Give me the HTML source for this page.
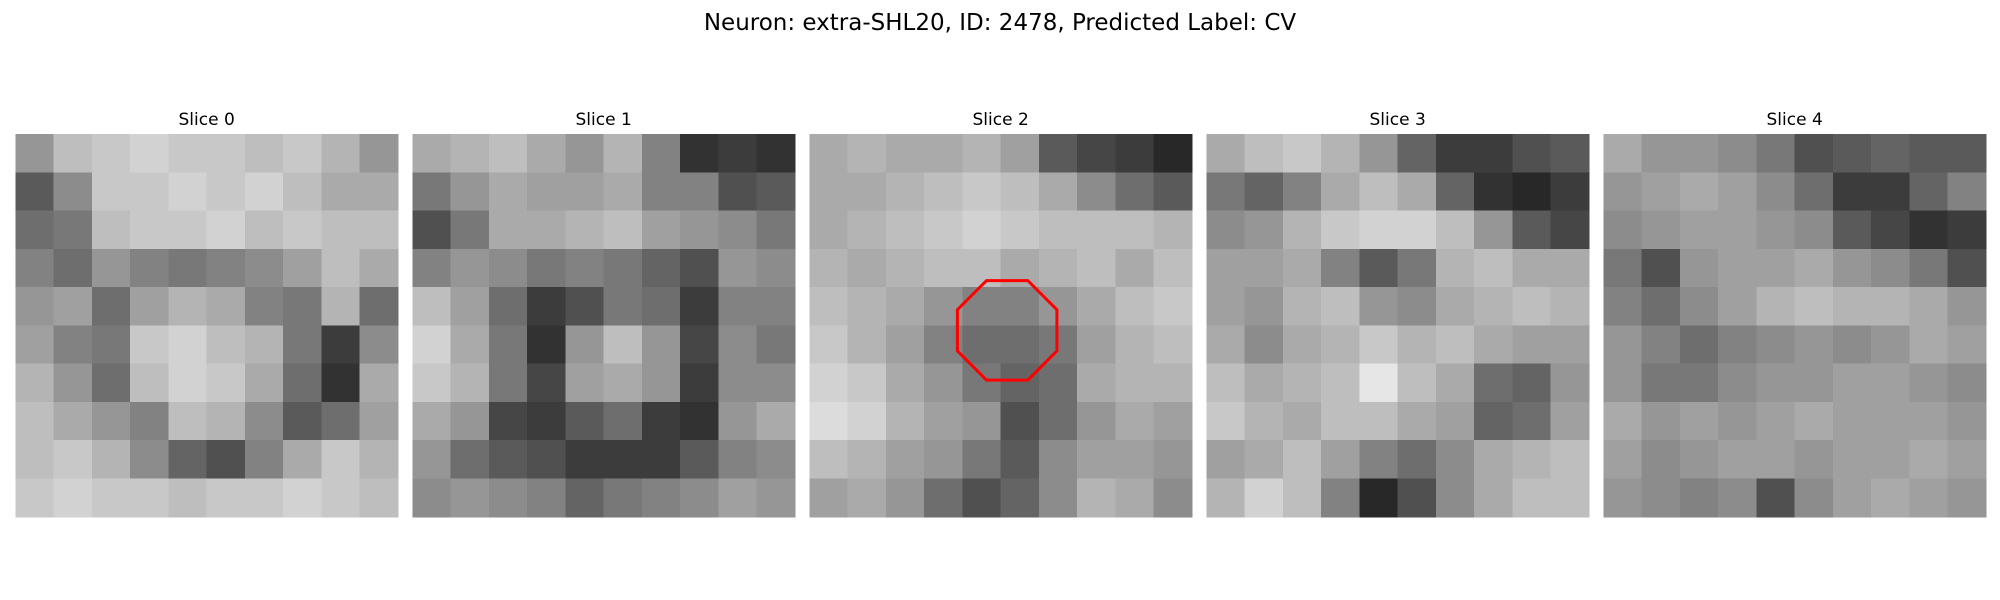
<!DOCTYPE html>
<html><head><meta charset="utf-8"><style>
html,body{margin:0;padding:0;background:#fff;}
svg{display:block;}
text{font-family:"DejaVu Sans","Liberation Sans",sans-serif;fill:#000;}
</style></head><body>
<svg id="fig" width="2000" height="600" viewBox="0 0 2000 600" shape-rendering="crispEdges">
<text x="1000" y="30" text-anchor="middle" font-size="23">Neuron: extra-SHL20, ID: 2478, Predicted Label: CV</text>
<g id="panels"></g>
</svg>
<script>
const sliceTitles = ["Slice 0","Slice 1","Slice 2","Slice 3","Slice 4"];
const slice0 = [
[150,190,200,210,200,200,190,200,180,150],
[90,140,200,200,210,200,210,190,170,170],
[110,120,190,200,200,210,190,200,190,190],
[130,110,150,130,120,130,140,160,190,170],
[150,160,110,160,180,170,130,120,180,110],
[160,130,120,200,210,190,180,120,60,140],
[180,150,110,190,210,200,170,110,50,170],
[190,170,150,130,190,180,140,90,110,160],
[190,200,180,140,100,80,130,170,200,180],
[200,210,200,200,190,200,200,210,200,190]];
const slice1 = [
[170,180,190,170,150,180,130,50,60,50],
[120,150,170,160,160,170,130,130,80,90],
[80,120,170,170,180,190,160,150,140,120],
[130,150,140,120,130,120,100,80,150,140],
[190,160,110,60,80,120,110,60,130,130],
[210,170,120,50,150,190,150,70,140,120],
[200,180,120,70,160,170,150,60,140,140],
[170,150,70,60,90,110,60,50,150,170],
[150,110,90,80,60,60,60,90,130,140],
[140,150,140,130,100,120,130,140,160,150]];
const slice2 = [
[170,180,170,170,180,160,90,70,60,40],
[170,170,180,190,200,190,170,140,110,90],
[170,180,190,200,210,200,190,190,190,180],
[180,170,180,190,190,170,180,190,170,190],
[190,180,170,150,130,130,150,170,190,200],
[200,180,160,130,110,110,120,160,180,190],
[210,200,170,150,120,100,110,170,180,180],
[220,210,180,160,150,80,110,150,170,160],
[190,180,160,150,120,90,140,160,160,150],
[160,170,150,110,80,100,140,180,170,140]];
const slice3 = [
[170,190,200,180,150,100,60,60,80,90],
[120,100,130,170,190,170,100,50,40,60],
[140,150,180,200,210,210,190,150,90,70],
[160,160,170,130,90,120,180,190,170,170],
[160,150,180,190,150,140,170,180,190,180],
[170,140,170,180,200,180,190,170,160,160],
[190,170,180,190,230,190,170,110,100,150],
[200,180,170,190,190,170,160,100,110,160],
[160,170,190,160,130,110,140,170,180,190],
[180,210,190,130,40,80,140,170,190,190]];
const slice4 = [
[170,150,150,140,120,80,90,100,90,90],
[150,160,170,160,140,110,60,60,100,130],
[140,150,160,160,150,140,90,70,50,60],
[120,80,150,160,160,170,150,140,120,80],
[130,110,140,160,180,190,180,180,170,150],
[150,130,110,130,140,150,140,150,170,160],
[150,120,120,140,150,150,160,160,150,140],
[170,150,160,150,160,170,160,160,160,150],
[160,140,150,160,160,150,160,160,170,160],
[150,140,130,140,80,140,160,170,160,150]];
const slices = [slice0,slice1,slice2,slice3,slice4];
// marker: slice index, center (fraction of panel), apothem (fraction)
const markerSlice = [2];
const markerCenter = [0.517,0.513];
const markerApothem = [0.13];

const NS="http://www.w3.org/2000/svg";
const panelsG=document.getElementById('panels');
const panelLeft0=15.3, panelStep=397.0, panelTop=134, panelSize=382.7;
function px(i,frac){return panelLeft0+i*panelStep+frac*panelSize;}
function py(frac){return panelTop+frac*panelSize;}
slices.forEach((grid,i)=>{
  const g=document.createElementNS(NS,'g');
  
  
  const n=grid.length, m=grid[0].length;
  grid.forEach((row,r)=>row.forEach((v,c)=>{
    const rect=document.createElementNS(NS,'rect');
    const x0=px(i,c/m), x1=px(i,(c+1)/m), y0=py(r/n), y1=py((r+1)/n);
    rect.setAttribute('x',x0);rect.setAttribute('y',y0);
    rect.setAttribute('width',x1-x0+0.6);rect.setAttribute('height',y1-y0+0.6);
    rect.setAttribute('fill','rgb('+v+','+v+','+v+')');
    
    
    g.appendChild(rect);
  }));
  const t=document.createElementNS(NS,'text');
  t.setAttribute('x',px(i,0.5));t.setAttribute('y',125);
  t.setAttribute('text-anchor','middle');t.setAttribute('font-size','17');
  t.textContent=sliceTitles[i];
  
  
  g.appendChild(t);
  panelsG.appendChild(g);
});
markerSlice.forEach((si,k)=>{
  const cx=px(si,markerCenter[0]), cy=py(markerCenter[1]);
  const R=markerApothem[k]*panelSize/Math.cos(Math.PI/8);
  const pts=[];
  for(let j=0;j<8;j++){const a=Math.PI/8+j*Math.PI/4;pts.push((cx+R*Math.cos(a)).toFixed(1)+','+(cy+R*Math.sin(a)).toFixed(1));}
  const p=document.createElementNS(NS,'polygon');
  p.setAttribute('points',pts.join(' '));
  p.setAttribute('fill','none');p.setAttribute('stroke','#ff0000');p.setAttribute('stroke-width','3');
  p.setAttribute('shape-rendering','auto');
  
  
  document.getElementById('fig').appendChild(p);
});
</script>
</body></html>
